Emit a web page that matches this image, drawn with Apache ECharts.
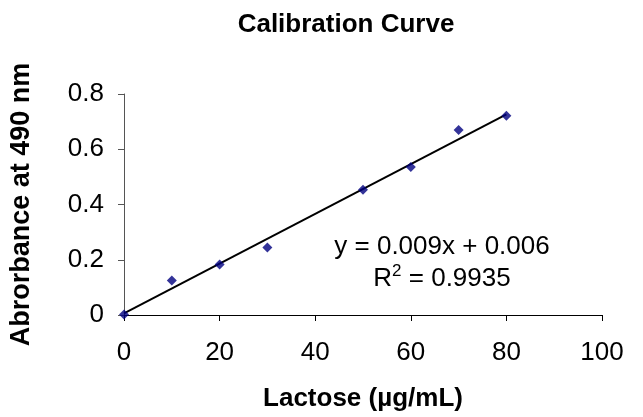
<!DOCTYPE html>
<html>
<head>
<meta charset="utf-8">
<script src="https://cdn.jsdelivr.net/npm/echarts@6/dist/echarts.min.js"></script>
<style>
  html, body { margin: 0; padding: 0; background: #fff; }
  #chart { width: 643px; height: 417px; }
</style>
</head>
<body>
<div id="chart"></div>
<script>
// Lactose standards (µg/mL) and measured absorbance at 490 nm
const concentrations = [0, 10, 20, 30, 50, 60, 70, 80];
const absorbances = [0.002, 0.125, 0.183, 0.244, 0.453, 0.536, 0.670, 0.721];

// Linear trendline coefficients and fit quality
const slope = 0.009;
const intercept = 0.006;
const rSquared = 0.9935;
const trendRange = [0, 80];

// Axis ticks
const xTicks = [0, 20, 40, 60, 80, 100];
const yTicks = [0, 0.2, 0.4, 0.6, 0.8];

const FONT = '"Liberation Sans", Arial, sans-serif';
const LABEL_SIZE = 26;
const TITLE_SIZE = 26;

const points = concentrations.map((c, i) => [c, absorbances[i]]);
const trendLine = trendRange.map(x => [x, slope * x + intercept]);

const chart = echarts.init(document.getElementById('chart'), null, { renderer: 'canvas' });

chart.setOption({
  animation: false,
  backgroundColor: '#fff',
  grid: { left: 121, right: 41, top: 94, bottom: 101, containLabel: false },
  xAxis: {
    type: 'value',
    min: xTicks[0],
    max: xTicks[xTicks.length - 1],
    interval: xTicks[1] - xTicks[0],
    name: 'Lactose (µg/mL)',
    nameLocation: 'middle',
    nameGap: 71,
    nameTextStyle: { fontFamily: FONT, fontSize: TITLE_SIZE, fontWeight: 'bold', color: '#000' },
    axisLine: { show: true, onZero: false, lineStyle: { color: '#000', width: 1 } },
    axisTick: { show: true, inside: false, length: 6, lineStyle: { color: '#000' } },
    axisLabel: { fontFamily: FONT, fontSize: LABEL_SIZE, color: '#000', margin: 25 },
    splitLine: { show: false }
  },
  yAxis: {
    type: 'value',
    min: yTicks[0],
    max: yTicks[yTicks.length - 1],
    interval: 0.2,
    name: 'Abrorbance at 490 nm',
    nameLocation: 'middle',
    nameGap: 89,
    nameTextStyle: { fontFamily: FONT, fontSize: 27, fontWeight: 'bold', color: '#000' },
    axisLine: { show: true, onZero: false, lineStyle: { color: '#555', width: 1 } },
    axisTick: { show: true, inside: false, length: 6, lineStyle: { color: '#555' } },
    axisLabel: {
      fontFamily: FONT, fontSize: LABEL_SIZE, color: '#000', margin: 20,
      formatter: v => (Math.abs(v) < 1e-9 ? '0' : String(Math.round(v * 10) / 10))
    },
    splitLine: { show: false }
  },
  graphic: [
    {
      // chart title
      type: 'text',
      x: 346,
      y: 25,
      style: {
        text: 'Calibration Curve',
        font: 'bold ' + TITLE_SIZE + 'px ' + FONT,
        fill: '#000',
        align: 'center',
        verticalAlign: 'middle'
      }
    },
    {
      // trendline equation
      type: 'text',
      x: 442,
      y: 247,
      style: {
        text: 'y = ' + slope.toFixed(3) + 'x + ' + intercept.toFixed(3),
        font: LABEL_SIZE + 'px ' + FONT,
        fill: '#000',
        align: 'center',
        verticalAlign: 'middle'
      }
    },
    {
      // coefficient of determination with superscript 2
      type: 'text',
      x: 442,
      y: 279,
      style: {
        text: '{r|R}{s|2}{r| = ' + rSquared.toFixed(4) + '}',
        fill: '#000',
        align: 'center',
        verticalAlign: 'middle',
        rich: {
          r: { fontFamily: FONT, fontSize: LABEL_SIZE, color: '#000', lineHeight: 32, verticalAlign: 'middle' },
          s: { fontFamily: FONT, fontSize: 17, color: '#000', lineHeight: 17, verticalAlign: 'top' }
        }
      }
    }
  ],
  series: [
    {
      name: 'Trendline',
      type: 'line',
      data: trendLine,
      symbol: 'none',
      lineStyle: { color: '#000', width: 2 },
      z: 2
    },
    {
      name: 'Standards',
      type: 'scatter',
      data: points,
      symbol: 'diamond',
      symbolSize: 10,
      itemStyle: { color: '#000080' },
      z: 3
    }
  ]
});
</script>
</body>
</html>
